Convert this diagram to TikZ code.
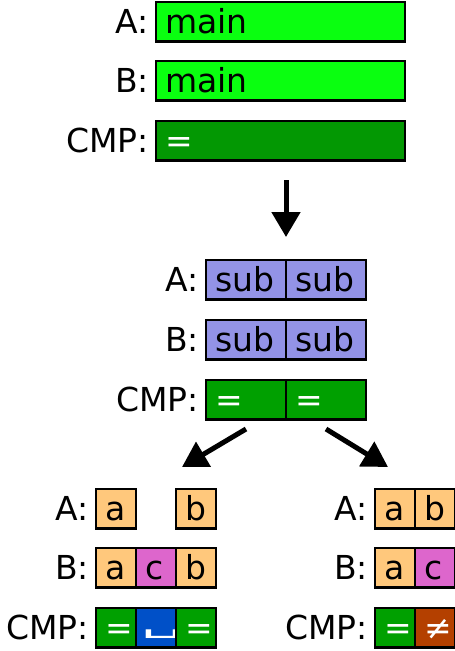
\documentclass[tikz,border=0pt]{standalone}
\usepackage{fontspec}
\setmainfont{DejaVu Sans}
\usetikzlibrary{arrows.meta,calc}
\definecolor{brightgreen}{RGB}{10,255,16}
\definecolor{topgreen}{RGB}{3,152,3}
\definecolor{midgreen}{RGB}{0,160,0}
\definecolor{subpurple}{RGB}{147,147,230}
\definecolor{cellorange}{RGB}{255,200,124}
\definecolor{cellmagenta}{RGB}{221,102,204}
\definecolor{gapblue}{RGB}{0,80,200}
\definecolor{neqred}{RGB}{180,64,0}
\newcommand\mkcell[7]{%
  \node[cellbox,fill=#5,minimum width=#4pt] (#1) at (#2+#4/2,#3+19.75) {};
  \node[celltext,text=#7] (#1t) at ($(#1.west)+(9,11.5)$) {#6};}
\newcommand\mklabel[3]{%
  \node[lbl] (#1) at ($(#2.west)+(-7,11.5)$) {#3};}
\newcommand\gapsym{\hspace*{-4pt}\raisebox{7pt}{\scalebox{2}[0.8]{␣}}}
\begin{document}
\begin{tikzpicture}[x=1pt,y=-1pt,
  cellbox/.style={draw=black,line width=2.3pt,minimum height=39.5pt,inner sep=0pt,outer sep=0pt},
  celltext/.style={anchor=base west,inner sep=0pt,font=\fontsize{33}{40}\selectfont},
  lbl/.style={anchor=base east,inner sep=0pt,font=\fontsize{33}{40}\selectfont},
  bigarrow/.style={line width=5pt,-{Triangle[length=25pt,width=28pt]}}]
\useasboundingbox (0,0) rectangle (455,651);
% top group
\mkcell{tA}{156}{2}{249}{brightgreen}{main}{black}
\mkcell{tB}{156}{61}{249}{brightgreen}{main}{black}
\mkcell{tC}{156}{121}{249}{topgreen}{=}{white}
\mklabel{ltA}{tA}{A:}
\mklabel{ltB}{tB}{B:}
\mklabel{ltC}{tC}{CMP:}
% middle group
\mkcell{mA1}{206}{260}{80}{subpurple}{sub}{black}
\mkcell{mA2}{286}{260}{80}{subpurple}{sub}{black}
\mkcell{mB1}{206}{320}{80}{subpurple}{sub}{black}
\mkcell{mB2}{286}{320}{80}{subpurple}{sub}{black}
\mkcell{mC1}{206}{380}{80}{midgreen}{=}{white}
\mkcell{mC2}{286}{380}{80}{midgreen}{=}{white}
\mklabel{lmA}{mA1}{A:}
\mklabel{lmB}{mB1}{B:}
\mklabel{lmC}{mC1}{CMP:}
% bottom left
\mkcell{lA1}{96}{489}{40}{cellorange}{a}{black}
\mkcell{lA3}{176}{489}{40}{cellorange}{b}{black}
\mkcell{lB1}{96}{548}{40}{cellorange}{a}{black}
\mkcell{lB2}{136}{548}{40}{cellmagenta}{c}{black}
\mkcell{lB3}{176}{548}{40}{cellorange}{b}{black}
\mkcell{lC1}{96}{608}{40}{midgreen}{=}{white}
\mkcell{lC2}{136}{608}{40}{gapblue}{\gapsym}{white}
\mkcell{lC3}{176}{608}{40}{midgreen}{=}{white}
\mklabel{llA}{lA1}{A:}
\mklabel{llB}{lB1}{B:}
\mklabel{llC}{lC1}{CMP:}
% bottom right
\mkcell{rA1}{375}{489}{40}{cellorange}{a}{black}
\mkcell{rA2}{415}{489}{40}{cellorange}{b}{black}
\mkcell{rB1}{375}{548}{40}{cellorange}{a}{black}
\mkcell{rB2}{415}{548}{40}{cellmagenta}{c}{black}
\mkcell{rC1}{375}{608}{40}{midgreen}{=}{white}
\mkcell{rC2}{415}{608}{40}{neqred}{≠}{white}
\mklabel{lrA}{rA1}{A:}
\mklabel{lrB}{rB1}{B:}
\mklabel{lrC}{rC1}{CMP:}
% arrows
\coordinate (a1s) at (286,180);
\coordinate (a1e) at (286,237);
\coordinate (a2s) at (246,429);
\coordinate (a2e) at (182,467);
\coordinate (a3s) at (326,429);
\coordinate (a3e) at (388,467);
\draw[bigarrow] (a1s) -- (a1e);
\draw[bigarrow] (a2s) -- (a2e);
\draw[bigarrow] (a3s) -- (a3e);
\end{tikzpicture}
\end{document}
